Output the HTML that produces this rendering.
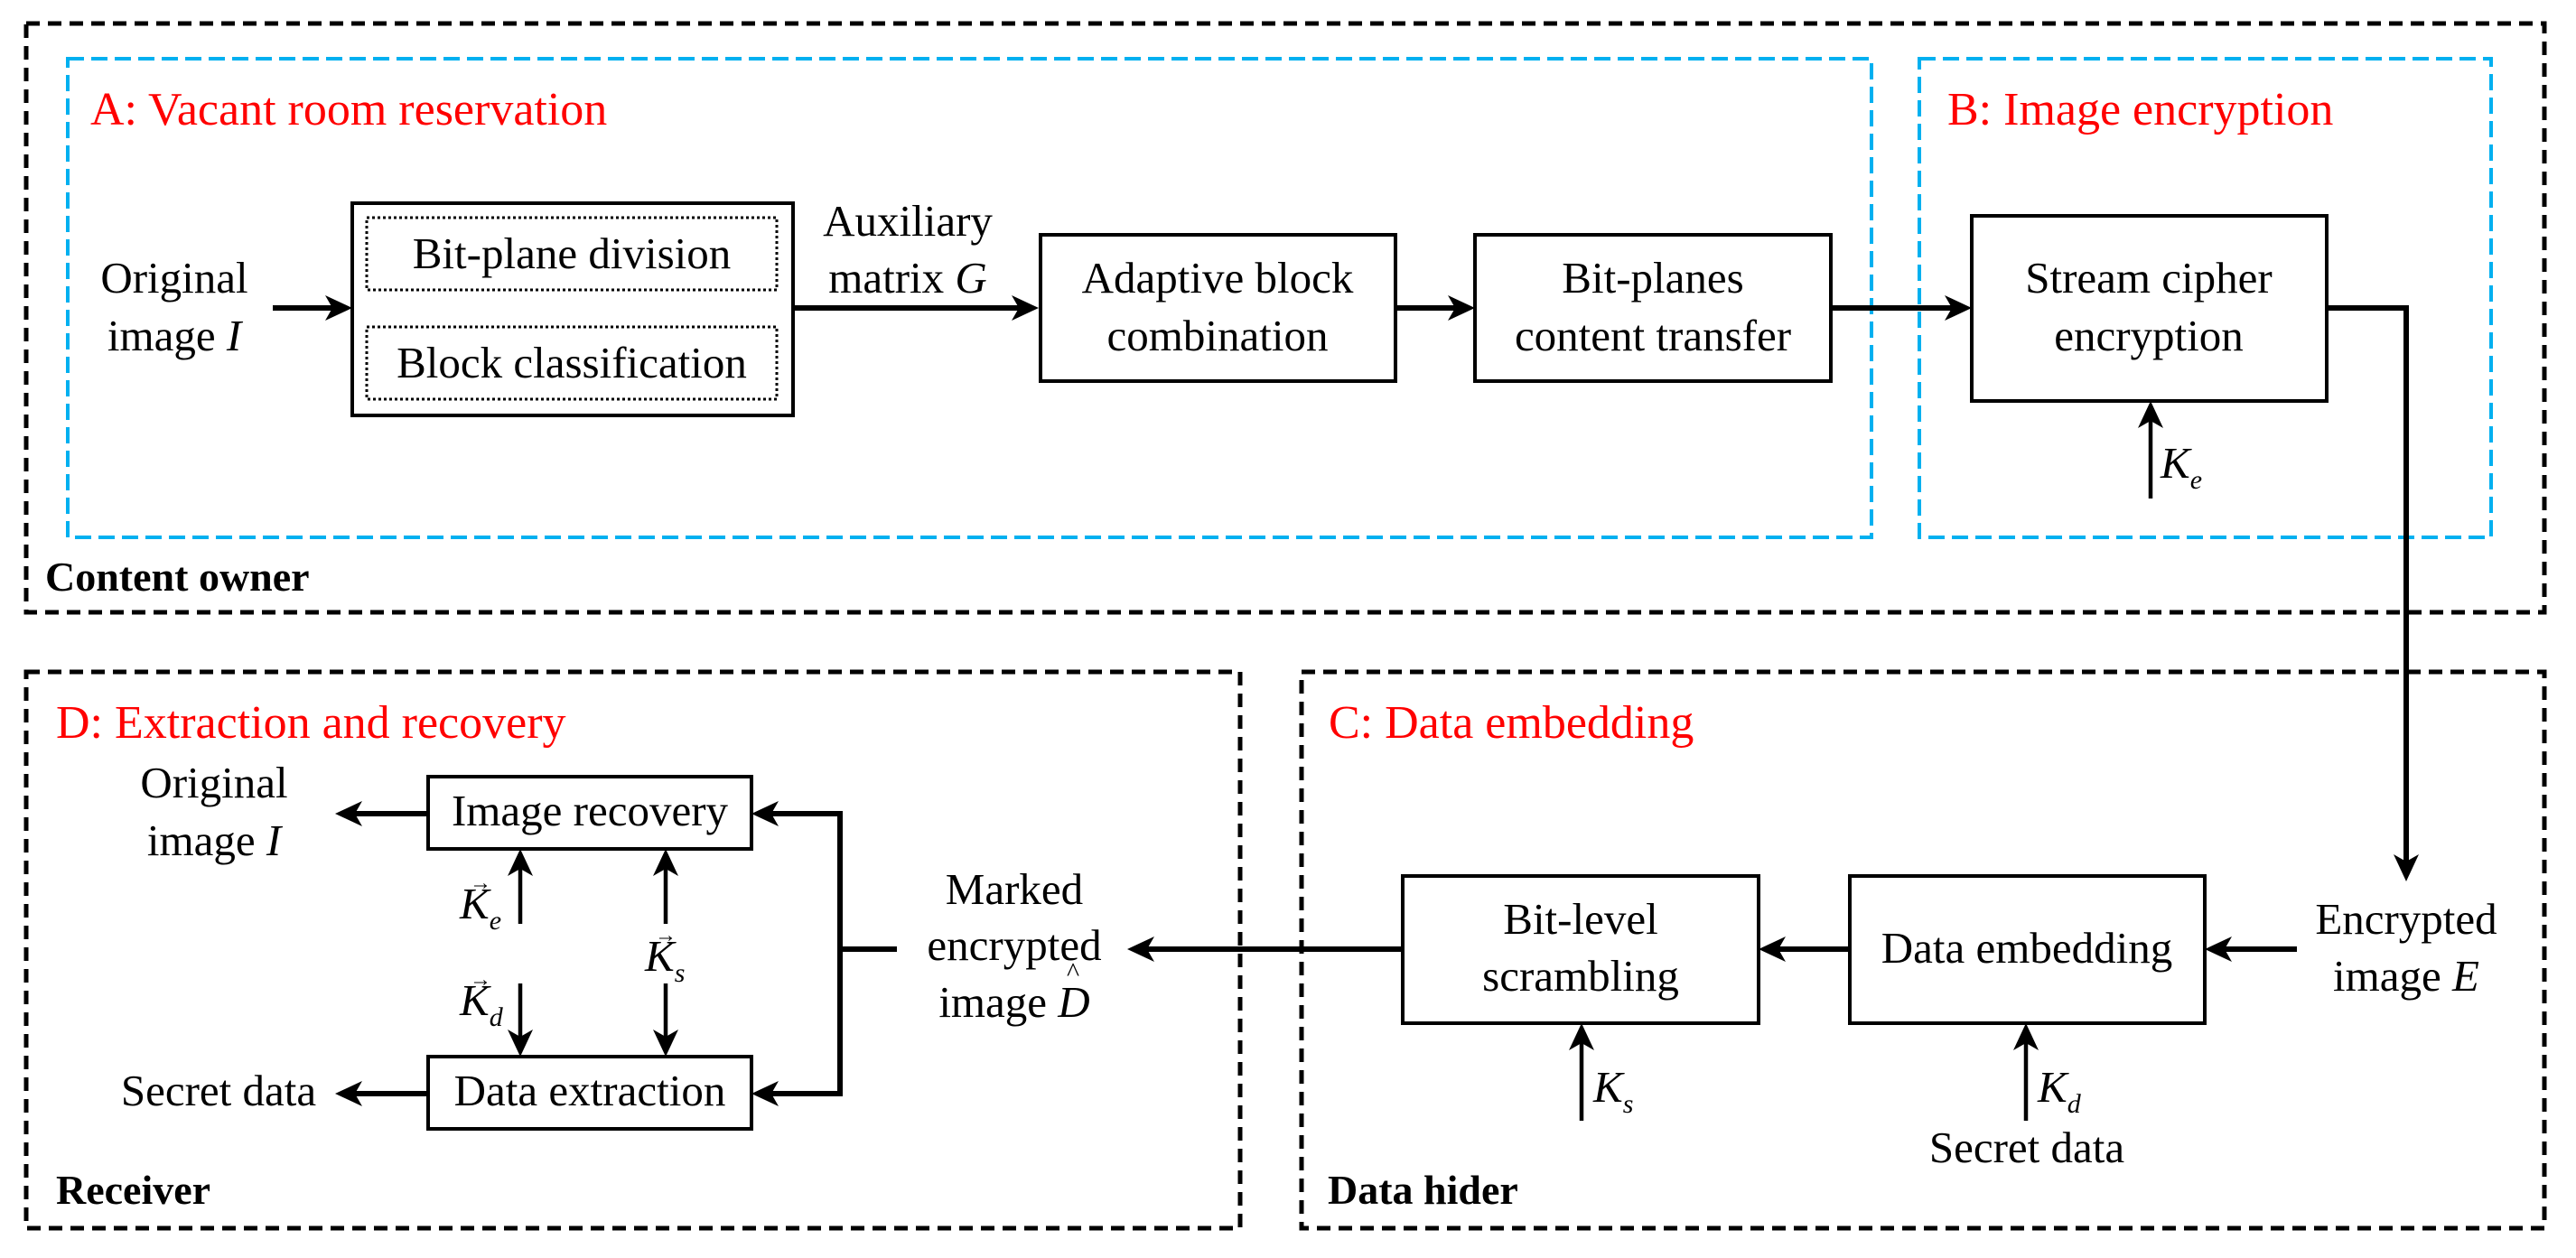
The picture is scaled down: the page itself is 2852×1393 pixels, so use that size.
<!DOCTYPE html>
<html><head><meta charset="utf-8"><style>
html,body{margin:0;padding:0;background:#fff;}
svg{display:block;font-family:"Liberation Serif","Times New Roman","DejaVu Serif",serif;}
text{font-family:"Liberation Serif","Times New Roman","DejaVu Serif",serif;fill:#000;}
.t{font-size:49px;}
.r{font-size:52px;fill:#f00;}
.b{font-size:46px;font-weight:bold;}
.i{font-style:italic;}
</style></head><body>
<svg width="2852" height="1393" viewBox="0 0 2852 1393" xmlns="http://www.w3.org/2000/svg" font-family="Liberation Serif, serif">
<defs>
<marker id="a" markerUnits="userSpaceOnUse" markerWidth="30" markerHeight="28" refX="12" refY="14" orient="auto">
<path d="M0,0 L30,14 L0,28 L8,14 z" fill="#000"/>
</marker>
</defs>
<g fill="none" stroke="#000" stroke-width="5" stroke-dasharray="15 9">
<rect x="29" y="26" width="2788" height="652"/>
<rect x="29" y="744" width="1344" height="616"/>
<rect x="1441" y="744" width="1376" height="616"/>
</g>
<g fill="none" stroke="#00b0f0" stroke-width="4" stroke-dasharray="18 8">
<rect x="75" y="65" width="1997" height="530"/>
<rect x="2125" y="65" width="633" height="530"/>
</g>
<g fill="none" stroke="#000" stroke-width="4">
<rect x="390" y="225" width="488" height="235"/>
<rect x="1152" y="260" width="393" height="162"/>
<rect x="1633" y="260" width="394" height="162"/>
<rect x="2183" y="239" width="393" height="205"/>
<rect x="474" y="860" width="358" height="80"/>
<rect x="474" y="1170" width="358" height="80"/>
<rect x="1553" y="970" width="394" height="163"/>
<rect x="2048" y="970" width="393" height="163"/>
</g>
<g fill="none" stroke="#000" stroke-width="3" stroke-dasharray="3 3">
<rect x="406" y="241" width="454" height="80"/>
<rect x="406" y="362" width="454" height="80"/>
</g>
<g fill="none" stroke="#000" stroke-width="6" marker-end="url(#a)">
<path d="M302,341 H372"/>
<path d="M878,341 H1132"/>
<path d="M1545,341 H1615"/>
<path d="M2027,341 H2165"/>
<path d="M2576,341 H2664 V958"/>
<path d="M2543,1051 H2459"/>
<path d="M2048,1051 H1965"/>
<path d="M1553,1051 H1266"/>
<path d="M930,1054 V901 H850"/>
<path d="M930,1048 V1211 H850"/>
<path d="M474,901 H389"/>
<path d="M474,1211 H389"/>
</g>
<path d="M993,1051 H927" stroke="#000" stroke-width="6"/>
<g fill="none" stroke="#000" stroke-width="4.5" marker-end="url(#a)">
<path d="M2381,552 V462"/>
<path d="M1751,1241 V1151"/>
<path d="M2243,1241 V1151"/>
<path d="M576,1023 V958"/>
<path d="M737,1023 V958"/>
<path d="M737,1089 V1152"/>
<path d="M576,1089 V1152"/>
</g>
<text class="r" x="100" y="138">A: Vacant room reservation</text>
<text class="r" x="2156" y="138">B: Image encryption</text>
<text class="r" x="62" y="817">D: Extraction and recovery</text>
<text class="r" x="1471" y="817">C: Data embedding</text>
<text class="b" x="50" y="654">Content owner</text>
<text class="b" x="62" y="1333">Receiver</text>
<text class="b" x="1470" y="1333">Data hider</text>
<g class="t" text-anchor="middle">
<text x="193" y="324">Original</text>
<text x="193" y="388">image <tspan class="i">I</tspan></text>
<text x="633" y="297">Bit-plane division</text>
<text x="633" y="418">Block classification</text>
<text x="1005" y="261">Auxiliary</text>
<text x="1005" y="324">matrix <tspan class="i">G</tspan></text>
<text x="1348" y="324">Adaptive block</text>
<text x="1348" y="388">combination</text>
<text x="1830" y="324">Bit-planes</text>
<text x="1830" y="388">content transfer</text>
<text x="2379" y="324">Stream cipher</text>
<text x="2379" y="388">encryption</text>
<text x="2664" y="1034">Encrypted</text>
<text x="2664" y="1097">image <tspan class="i">E</tspan></text>
<text x="1750" y="1034">Bit-level</text>
<text x="1750" y="1097">scrambling</text>
<text x="2244" y="1066">Data embedding</text>
<text x="2244" y="1287">Secret data</text>
<text x="1123" y="1001">Marked</text>
<text x="1123" y="1063">encrypted</text>
<text x="1123" y="1126">image <tspan class="i">D</tspan></text>
<text x="237" y="883">Original</text>
<text x="237" y="947">image <tspan class="i">I</tspan></text>
<text x="242" y="1224">Secret data</text>
<text x="653" y="914">Image recovery</text>
<text x="653" y="1224">Data extraction</text>
</g>
<text x="1188" y="1086" font-size="30" text-anchor="middle">^</text>
<g class="t i">
<text x="2392" y="529">K<tspan font-size="30" dy="12">e</tspan></text>
<text x="1764" y="1220">K<tspan font-size="30" dy="12">s</tspan></text>
<text x="2256" y="1220">K<tspan font-size="30" dy="12">d</tspan></text>
<text x="509" y="1017">K<tspan font-size="30" dy="12">e</tspan></text>
<text x="714" y="1075">K<tspan font-size="30" dy="12">s</tspan></text>
<text x="509" y="1124">K<tspan font-size="30" dy="12">d</tspan></text>
</g>
<g font-size="24">
<text x="520" y="985">→</text>
<text x="725" y="1043">→</text>
<text x="520" y="1092">→</text>
</g>
</svg>
</body></html>
